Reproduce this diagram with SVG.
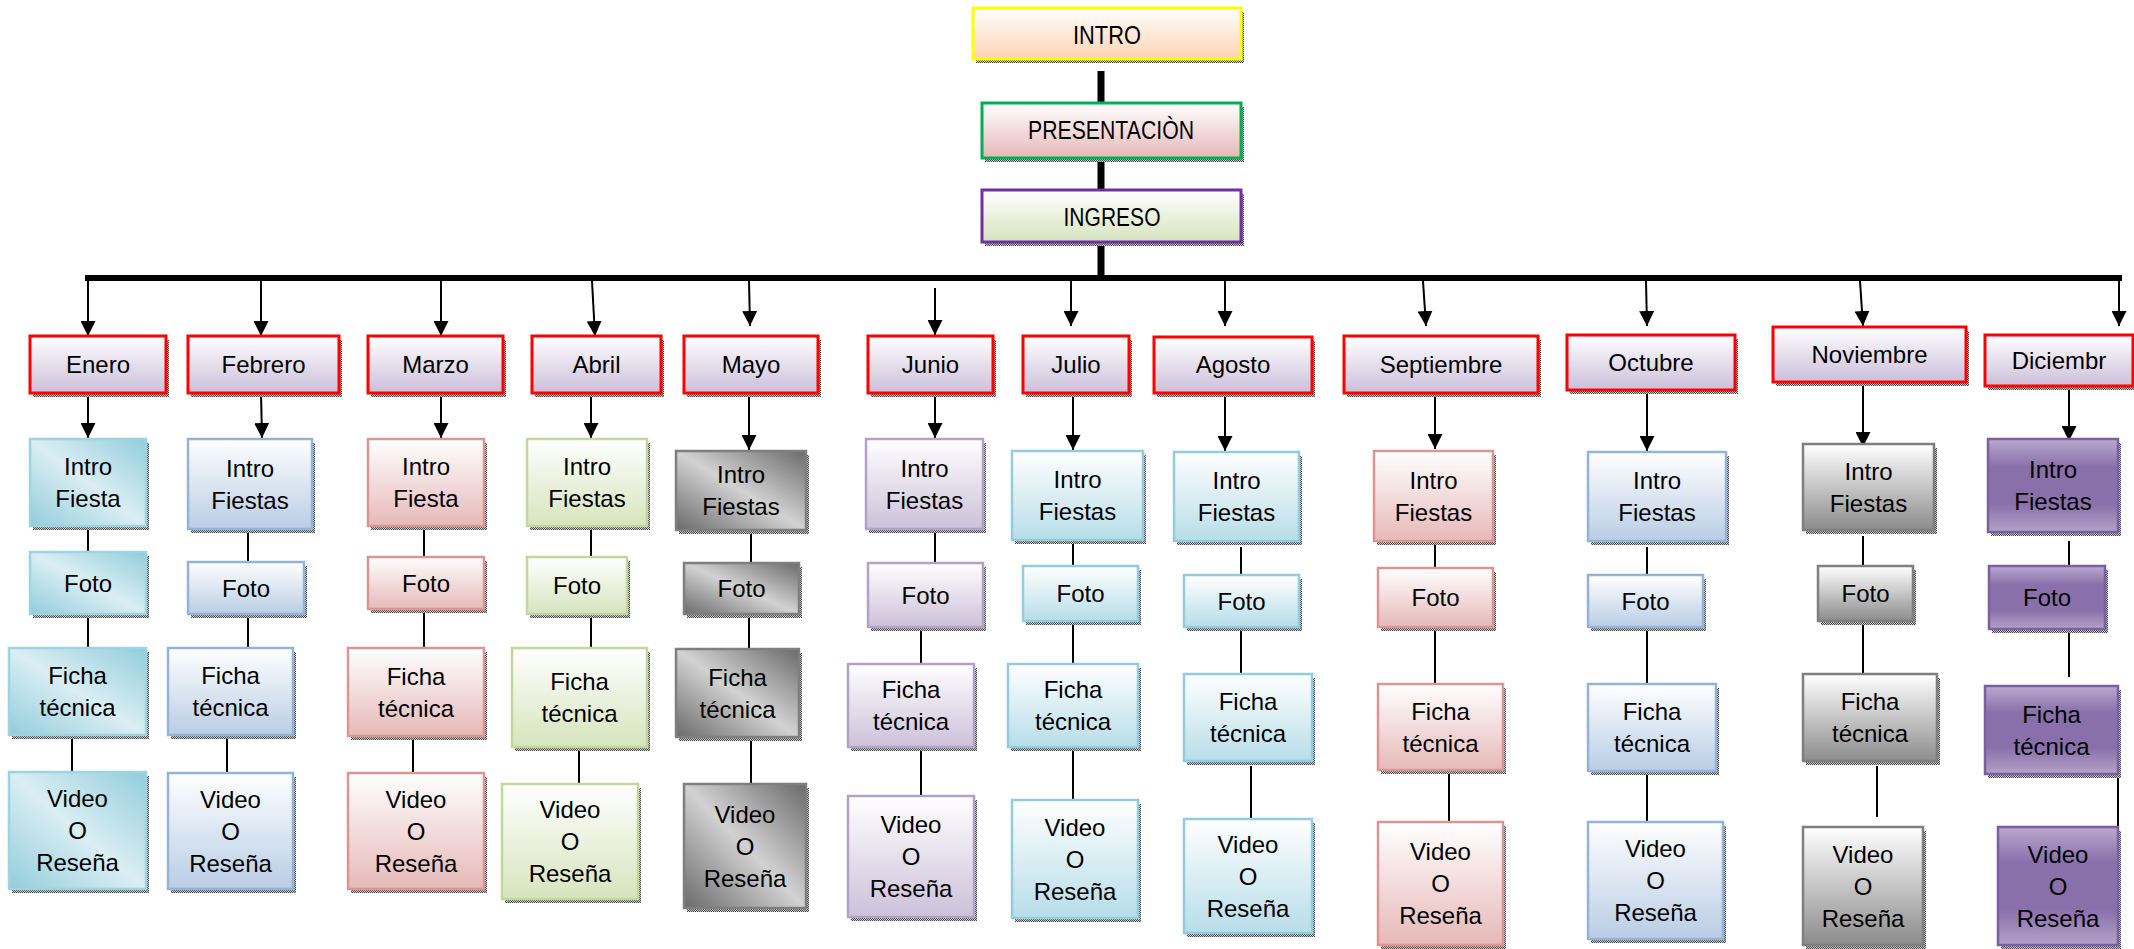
<svg xmlns="http://www.w3.org/2000/svg" width="2134" height="949" viewBox="0 0 2134 949">
<style>
.t{font-family:"Liberation Sans",Arial,sans-serif;font-size:24px;text-anchor:middle;fill:#000}
.tt{font-family:"Liberation Sans",Arial,sans-serif;font-size:26px;text-anchor:middle;fill:#000}
.sh{fill:url(#dots)}
.m{fill:url(#gMonth);stroke:#ff0000;stroke-width:3}
.b{stroke-width:2.5}
.teal{fill:url(#gTeal);stroke:#9fd3df}
.blue{fill:url(#gBlue);stroke:#95b3d7}
.pink{fill:url(#gPink);stroke:#d99694}
.green{fill:url(#gGreen);stroke:#c3d69b}
.gray{fill:url(#gGrayD);stroke:#7f7f7f}
.lav{fill:url(#gLav);stroke:#b3a2c7}
.lblue{fill:url(#gLBlue);stroke:#93cddd}
.ngray{fill:url(#gGrayV);stroke:#7f7f7f}
.purp{fill:url(#gPurp);stroke:#7b5fa0}
.thick{stroke:#000;stroke-width:7;fill:none}
.bar{stroke:#000;stroke-width:6;fill:none}
.arr{stroke:#000;stroke-width:2;fill:none;marker-end:url(#ah)}
.ln{stroke:#000;stroke-width:2;fill:none}
</style>
<defs>
<pattern id="dots" width="2" height="2" patternUnits="userSpaceOnUse"><rect width="2" height="2" fill="#c8c8c8"/><rect width="1" height="1" fill="#4d4d4d"/><rect x="1" y="1" width="1" height="1" fill="#4d4d4d"/></pattern>
<marker id="ah" viewBox="0 0 10 10" refX="10" refY="5" markerUnits="userSpaceOnUse" markerWidth="15" markerHeight="15" orient="auto"><path d="M0,0 L10,5 L0,10 z" fill="#000"/></marker>
<linearGradient id="gMonth" x1="0" y1="0" x2="0" y2="1"><stop offset="0" stop-color="#ffffff"/><stop offset="1" stop-color="#cbbfda"/></linearGradient>
<linearGradient id="gIntro" x1="0" y1="0" x2="0" y2="1"><stop offset="0" stop-color="#ffffff"/><stop offset="1" stop-color="#fbd4b4"/></linearGradient>
<linearGradient id="gPres" x1="0" y1="0" x2="0" y2="1"><stop offset="0" stop-color="#ffffff"/><stop offset="1" stop-color="#e5b8b7"/></linearGradient>
<linearGradient id="gIng" x1="0" y1="0" x2="0" y2="1"><stop offset="0" stop-color="#ffffff"/><stop offset="1" stop-color="#d6e3bc"/></linearGradient>
<linearGradient id="gTeal" x1="0" y1="1" x2="1" y2="0"><stop offset="0" stop-color="#92cddc"/><stop offset="0.5" stop-color="#daeef3"/><stop offset="1" stop-color="#92cddc"/></linearGradient>
<linearGradient id="gGrayD" x1="0" y1="1" x2="1" y2="0"><stop offset="0" stop-color="#6a6a6a"/><stop offset="0.5" stop-color="#d2d2d2"/><stop offset="1" stop-color="#6a6a6a"/></linearGradient>
<linearGradient id="gBlue" x1="0" y1="0" x2="0" y2="1"><stop offset="0" stop-color="#ffffff"/><stop offset="1" stop-color="#b9cde5"/></linearGradient>
<linearGradient id="gPink" x1="0" y1="0" x2="0" y2="1"><stop offset="0" stop-color="#ffffff"/><stop offset="1" stop-color="#e6b9b8"/></linearGradient>
<linearGradient id="gGreen" x1="0" y1="0" x2="0" y2="1"><stop offset="0" stop-color="#ffffff"/><stop offset="1" stop-color="#d7e4bd"/></linearGradient>
<linearGradient id="gLav" x1="0" y1="0" x2="0" y2="1"><stop offset="0" stop-color="#ffffff"/><stop offset="1" stop-color="#ccc1da"/></linearGradient>
<linearGradient id="gLBlue" x1="0" y1="0" x2="0" y2="1"><stop offset="0" stop-color="#ffffff"/><stop offset="1" stop-color="#b7dde8"/></linearGradient>
<linearGradient id="gGrayV" x1="0" y1="0" x2="0" y2="1"><stop offset="0" stop-color="#ffffff"/><stop offset="1" stop-color="#8c8c8c"/></linearGradient>
<linearGradient id="gPurp" x1="0" y1="0" x2="0" y2="1"><stop offset="0" stop-color="#b9a9cf"/><stop offset="0.3" stop-color="#8a70ab"/><stop offset="0.7" stop-color="#8a70ab"/><stop offset="1" stop-color="#b3a2c7"/></linearGradient>
</defs>
<rect width="2134" height="949" fill="#ffffff"/>

<g id="connectors">
<line class="thick" x1="1101" y1="71" x2="1101" y2="103"/>
<line class="thick" x1="1101" y1="158" x2="1101" y2="190"/>
<line class="thick" x1="1101" y1="242" x2="1101" y2="278"/>
<polyline class="bar" points="88,281 88,278 2119,278 2119,281"/>
<line class="arr" x1="88" y1="281" x2="88" y2="336"/>
<line class="arr" x1="261" y1="281" x2="261" y2="336"/>
<line class="arr" x1="441" y1="281" x2="441" y2="336"/>
<line class="arr" x1="592" y1="281" x2="595" y2="336"/>
<line class="arr" x1="749" y1="281" x2="750" y2="326"/>
<line class="arr" x1="935" y1="288" x2="935" y2="335"/>
<line class="arr" x1="1071" y1="281" x2="1071" y2="326"/>
<line class="arr" x1="1225" y1="281" x2="1225" y2="326"/>
<line class="arr" x1="1423" y1="281" x2="1426" y2="326"/>
<line class="arr" x1="1646" y1="281" x2="1647" y2="326"/>
<line class="arr" x1="1860" y1="281" x2="1863" y2="326"/>
<line class="arr" x1="2119" y1="281" x2="2119" y2="326"/>
<line class="arr" x1="88" y1="393" x2="88" y2="438"/>
<line class="arr" x1="261" y1="393" x2="262" y2="438"/>
<line class="arr" x1="441" y1="393" x2="441" y2="438"/>
<line class="arr" x1="591" y1="393" x2="591" y2="438"/>
<line class="arr" x1="749" y1="393" x2="749" y2="450"/>
<line class="arr" x1="935" y1="393" x2="935" y2="438"/>
<line class="arr" x1="1073" y1="393" x2="1073" y2="450"/>
<line class="arr" x1="1225" y1="393" x2="1225" y2="451"/>
<line class="arr" x1="1435" y1="393" x2="1435" y2="449"/>
<line class="arr" x1="1647" y1="390" x2="1647" y2="451"/>
<line class="arr" x1="1863" y1="382" x2="1863" y2="447"/>
<line class="arr" x1="2069" y1="386" x2="2069" y2="441"/>
<line class="ln" x1="88" y1="526" x2="88" y2="552"/>
<line class="ln" x1="88" y1="614" x2="88" y2="648"/>
<line class="ln" x1="72" y1="735" x2="72" y2="772"/>
<line class="ln" x1="248" y1="529" x2="248" y2="562"/>
<line class="ln" x1="248" y1="614" x2="248" y2="648"/>
<line class="ln" x1="227" y1="735" x2="227" y2="773"/>
<line class="ln" x1="424" y1="526" x2="424" y2="557"/>
<line class="ln" x1="424" y1="609" x2="424" y2="648"/>
<line class="ln" x1="413" y1="736" x2="413" y2="773"/>
<line class="ln" x1="591" y1="526" x2="591" y2="557"/>
<line class="ln" x1="591" y1="614" x2="591" y2="648"/>
<line class="ln" x1="579" y1="747" x2="579" y2="784"/>
<line class="ln" x1="751" y1="530" x2="751" y2="563"/>
<line class="ln" x1="749" y1="614" x2="749" y2="649"/>
<line class="ln" x1="751" y1="737" x2="751" y2="784"/>
<line class="ln" x1="935" y1="529" x2="935" y2="563"/>
<line class="ln" x1="921" y1="627" x2="921" y2="664"/>
<line class="ln" x1="921" y1="747" x2="921" y2="796"/>
<line class="ln" x1="1073" y1="540" x2="1073" y2="566"/>
<line class="ln" x1="1073" y1="621" x2="1073" y2="664"/>
<line class="ln" x1="1073" y1="747" x2="1073" y2="800"/>
<line class="ln" x1="1241" y1="547" x2="1241" y2="575"/>
<line class="ln" x1="1241" y1="627" x2="1241" y2="674"/>
<line class="ln" x1="1251" y1="766" x2="1251" y2="819"/>
<line class="ln" x1="1435" y1="541" x2="1435" y2="568"/>
<line class="ln" x1="1435" y1="627" x2="1435" y2="684"/>
<line class="ln" x1="1449" y1="770" x2="1449" y2="822"/>
<line class="ln" x1="1647" y1="547" x2="1647" y2="575"/>
<line class="ln" x1="1647" y1="627" x2="1647" y2="684"/>
<line class="ln" x1="1647" y1="771" x2="1647" y2="822"/>
<line class="ln" x1="1863" y1="536" x2="1863" y2="566"/>
<line class="ln" x1="1863" y1="621" x2="1863" y2="674"/>
<line class="ln" x1="1877" y1="766" x2="1877" y2="817"/>
<line class="ln" x1="2069" y1="541" x2="2069" y2="565"/>
<line class="ln" x1="2069" y1="629" x2="2069" y2="677"/>
<line class="ln" x1="2118" y1="774" x2="2118" y2="827"/>
</g>

<g id="intro"><rect class="sh" x="976" y="12" width="268" height="51"/><rect x="973" y="8" width="268" height="51" fill="url(#gIntro)" stroke="#ffff00" stroke-width="3"/><text class="tt" x="1107" y="44" textLength="68" lengthAdjust="spacingAndGlyphs">INTRO</text></g>
<g id="presentacion"><rect class="sh" x="985" y="107" width="259" height="55"/><rect x="982" y="103" width="259" height="55" fill="url(#gPres)" stroke="#00b050" stroke-width="3"/><text class="tt" x="1111" y="139" textLength="166" lengthAdjust="spacingAndGlyphs">PRESENTACIÒN</text></g>
<g id="ingreso"><rect class="sh" x="985" y="194" width="259" height="52"/><rect x="982" y="190" width="259" height="52" fill="url(#gIng)" stroke="#7030a0" stroke-width="3"/><text class="tt" x="1112" y="226" textLength="97" lengthAdjust="spacingAndGlyphs">INGRESO</text></g>

<g id="enero"><rect class="sh" x="33" y="340" width="136" height="57"/><rect class="m" x="30" y="336" width="136" height="57"/><text class="t" x="98" y="372.5">Enero</text></g>
<g id="febrero"><rect class="sh" x="191" y="340" width="151" height="57"/><rect class="m" x="188" y="336" width="151" height="57"/><text class="t" x="263.5" y="372.5">Febrero</text></g>
<g id="marzo"><rect class="sh" x="371" y="340" width="135" height="57"/><rect class="m" x="368" y="336" width="135" height="57"/><text class="t" x="435.5" y="372.5">Marzo</text></g>
<g id="abril"><rect class="sh" x="535" y="340" width="129" height="57"/><rect class="m" x="532" y="336" width="129" height="57"/><text class="t" x="596.5" y="372.5">Abril</text></g>
<g id="mayo"><rect class="sh" x="687" y="340" width="134" height="57"/><rect class="m" x="684" y="336" width="134" height="57"/><text class="t" x="751" y="372.5">Mayo</text></g>
<g id="junio"><rect class="sh" x="871" y="340" width="125" height="57"/><rect class="m" x="868" y="336" width="125" height="57"/><text class="t" x="930.5" y="372.5">Junio</text></g>
<g id="julio"><rect class="sh" x="1026" y="340" width="106" height="57"/><rect class="m" x="1023" y="336" width="106" height="57"/><text class="t" x="1076" y="372.5">Julio</text></g>
<g id="agosto"><rect class="sh" x="1157" y="341" width="158" height="56"/><rect class="m" x="1154" y="337" width="158" height="56"/><text class="t" x="1233" y="373">Agosto</text></g>
<g id="septiembre"><rect class="sh" x="1347" y="340" width="194" height="57"/><rect class="m" x="1344" y="336" width="194" height="57"/><text class="t" x="1441" y="372.5">Septiembre</text></g>
<g id="octubre"><rect class="sh" x="1570" y="339" width="168" height="55"/><rect class="m" x="1567" y="335" width="168" height="55"/><text class="t" x="1651" y="370.5">Octubre</text></g>
<g id="noviembre"><rect class="sh" x="1776" y="331" width="193" height="55"/><rect class="m" x="1773" y="327" width="193" height="55"/><text class="t" x="1869.5" y="362.5">Noviembre</text></g>
<g id="diciembre"><rect class="sh" x="1988" y="339" width="148" height="51"/><rect class="m" x="1985" y="335" width="148" height="51"/><text class="t" x="2059" y="368.5">Diciembr</text></g>

<g id="enero-intro"><rect class="sh" x="33" y="443" width="116" height="87"/><rect class="b teal" x="30" y="439" width="116" height="87"/><text class="t"><tspan x="88" y="475">Intro</tspan><tspan x="88" y="507">Fiesta</tspan></text></g>
<g id="enero-foto"><rect class="sh" x="33" y="556" width="116" height="62"/><rect class="b teal" x="30" y="552" width="116" height="62"/><text class="t" x="88" y="591.5">Foto</text></g>
<g id="enero-ficha"><rect class="sh" x="12" y="652" width="137" height="87"/><rect class="b teal" x="9" y="648" width="137" height="87"/><text class="t"><tspan x="77.5" y="684">Ficha</tspan><tspan x="77.5" y="716">técnica</tspan></text></g>
<g id="enero-video"><rect class="sh" x="12" y="776" width="137" height="117"/><rect class="b teal" x="9" y="772" width="137" height="117"/><text class="t"><tspan x="77.5" y="807">Video</tspan><tspan x="77.5" y="839">O</tspan><tspan x="77.5" y="871">Reseña</tspan></text></g>

<g id="febrero-intro"><rect class="sh" x="191" y="443" width="124" height="90"/><rect class="b blue" x="188" y="439" width="124" height="90"/><text class="t"><tspan x="250" y="476.5">Intro</tspan><tspan x="250" y="508.5">Fiestas</tspan></text></g>
<g id="febrero-foto"><rect class="sh" x="191" y="566" width="116" height="52"/><rect class="b blue" x="188" y="562" width="116" height="52"/><text class="t" x="246" y="596.5">Foto</text></g>
<g id="febrero-ficha"><rect class="sh" x="171" y="652" width="125" height="87"/><rect class="b blue" x="168" y="648" width="125" height="87"/><text class="t"><tspan x="230.5" y="684">Ficha</tspan><tspan x="230.5" y="716">técnica</tspan></text></g>
<g id="febrero-video"><rect class="sh" x="171" y="777" width="125" height="116"/><rect class="b blue" x="168" y="773" width="125" height="116"/><text class="t"><tspan x="230.5" y="807.5">Video</tspan><tspan x="230.5" y="839.5">O</tspan><tspan x="230.5" y="871.5">Reseña</tspan></text></g>

<g id="marzo-intro"><rect class="sh" x="371" y="443" width="116" height="87"/><rect class="b pink" x="368" y="439" width="116" height="87"/><text class="t"><tspan x="426" y="475">Intro</tspan><tspan x="426" y="507">Fiesta</tspan></text></g>
<g id="marzo-foto"><rect class="sh" x="371" y="561" width="116" height="52"/><rect class="b pink" x="368" y="557" width="116" height="52"/><text class="t" x="426" y="591.5">Foto</text></g>
<g id="marzo-ficha"><rect class="sh" x="351" y="652" width="136" height="88"/><rect class="b pink" x="348" y="648" width="136" height="88"/><text class="t"><tspan x="416" y="684.5">Ficha</tspan><tspan x="416" y="716.5">técnica</tspan></text></g>
<g id="marzo-video"><rect class="sh" x="351" y="777" width="136" height="116"/><rect class="b pink" x="348" y="773" width="136" height="116"/><text class="t"><tspan x="416" y="807.5">Video</tspan><tspan x="416" y="839.5">O</tspan><tspan x="416" y="871.5">Reseña</tspan></text></g>

<g id="abril-intro"><rect class="sh" x="530" y="443" width="120" height="87"/><rect class="b green" x="527" y="439" width="120" height="87"/><text class="t"><tspan x="587" y="475">Intro</tspan><tspan x="587" y="507">Fiestas</tspan></text></g>
<g id="abril-foto"><rect class="sh" x="530" y="561" width="100" height="57"/><rect class="b green" x="527" y="557" width="100" height="57"/><text class="t" x="577" y="594">Foto</text></g>
<g id="abril-ficha"><rect class="sh" x="515" y="652" width="135" height="99"/><rect class="b green" x="512" y="648" width="135" height="99"/><text class="t"><tspan x="579.5" y="690">Ficha</tspan><tspan x="579.5" y="722">técnica</tspan></text></g>
<g id="abril-video"><rect class="sh" x="505" y="788" width="136" height="115"/><rect class="b green" x="502" y="784" width="136" height="115"/><text class="t"><tspan x="570" y="818">Video</tspan><tspan x="570" y="850">O</tspan><tspan x="570" y="882">Reseña</tspan></text></g>

<g id="mayo-intro"><rect class="sh" x="679" y="455" width="130" height="79"/><rect class="b gray" x="676" y="451" width="130" height="79"/><text class="t"><tspan x="741" y="483">Intro</tspan><tspan x="741" y="515">Fiestas</tspan></text></g>
<g id="mayo-foto"><rect class="sh" x="687" y="567" width="115" height="51"/><rect class="b gray" x="684" y="563" width="115" height="51"/><text class="t" x="741.5" y="597">Foto</text></g>
<g id="mayo-ficha"><rect class="sh" x="679" y="653" width="123" height="88"/><rect class="b gray" x="676" y="649" width="123" height="88"/><text class="t"><tspan x="737.5" y="685.5">Ficha</tspan><tspan x="737.5" y="717.5">técnica</tspan></text></g>
<g id="mayo-video"><rect class="sh" x="687" y="788" width="122" height="124"/><rect class="b gray" x="684" y="784" width="122" height="124"/><text class="t"><tspan x="745" y="822.5">Video</tspan><tspan x="745" y="854.5">O</tspan><tspan x="745" y="886.5">Reseña</tspan></text></g>

<g id="junio-intro"><rect class="sh" x="869" y="443" width="117" height="90"/><rect class="b lav" x="866" y="439" width="117" height="90"/><text class="t"><tspan x="924.5" y="476.5">Intro</tspan><tspan x="924.5" y="508.5">Fiestas</tspan></text></g>
<g id="junio-foto"><rect class="sh" x="871" y="567" width="115" height="64"/><rect class="b lav" x="868" y="563" width="115" height="64"/><text class="t" x="925.5" y="603.5">Foto</text></g>
<g id="junio-ficha"><rect class="sh" x="851" y="668" width="126" height="83"/><rect class="b lav" x="848" y="664" width="126" height="83"/><text class="t"><tspan x="911" y="698">Ficha</tspan><tspan x="911" y="730">técnica</tspan></text></g>
<g id="junio-video"><rect class="sh" x="851" y="800" width="126" height="121"/><rect class="b lav" x="848" y="796" width="126" height="121"/><text class="t"><tspan x="911" y="833">Video</tspan><tspan x="911" y="865">O</tspan><tspan x="911" y="897">Reseña</tspan></text></g>

<g id="julio-intro"><rect class="sh" x="1015" y="455" width="131" height="89"/><rect class="b lblue" x="1012" y="451" width="131" height="89"/><text class="t"><tspan x="1077.5" y="488">Intro</tspan><tspan x="1077.5" y="520">Fiestas</tspan></text></g>
<g id="julio-foto"><rect class="sh" x="1026" y="570" width="115" height="55"/><rect class="b lblue" x="1023" y="566" width="115" height="55"/><text class="t" x="1080.5" y="602">Foto</text></g>
<g id="julio-ficha"><rect class="sh" x="1011" y="668" width="130" height="83"/><rect class="b lblue" x="1008" y="664" width="130" height="83"/><text class="t"><tspan x="1073" y="698">Ficha</tspan><tspan x="1073" y="730">técnica</tspan></text></g>
<g id="julio-video"><rect class="sh" x="1015" y="804" width="126" height="118"/><rect class="b lblue" x="1012" y="800" width="126" height="118"/><text class="t"><tspan x="1075" y="835.5">Video</tspan><tspan x="1075" y="867.5">O</tspan><tspan x="1075" y="899.5">Reseña</tspan></text></g>

<g id="agosto-intro"><rect class="sh" x="1177" y="456" width="125" height="89"/><rect class="b lblue" x="1174" y="452" width="125" height="89"/><text class="t"><tspan x="1236.5" y="489">Intro</tspan><tspan x="1236.5" y="521">Fiestas</tspan></text></g>
<g id="agosto-foto"><rect class="sh" x="1187" y="579" width="115" height="52"/><rect class="b lblue" x="1184" y="575" width="115" height="52"/><text class="t" x="1241.5" y="609.5">Foto</text></g>
<g id="agosto-ficha"><rect class="sh" x="1187" y="678" width="128" height="87"/><rect class="b lblue" x="1184" y="674" width="128" height="87"/><text class="t"><tspan x="1248" y="710">Ficha</tspan><tspan x="1248" y="742">técnica</tspan></text></g>
<g id="agosto-video"><rect class="sh" x="1187" y="823" width="128" height="114"/><rect class="b lblue" x="1184" y="819" width="128" height="114"/><text class="t"><tspan x="1248" y="852.5">Video</tspan><tspan x="1248" y="884.5">O</tspan><tspan x="1248" y="916.5">Reseña</tspan></text></g>

<g id="septiembre-intro"><rect class="sh" x="1377" y="455" width="119" height="90"/><rect class="b pink" x="1374" y="451" width="119" height="90"/><text class="t"><tspan x="1433.5" y="488.5">Intro</tspan><tspan x="1433.5" y="520.5">Fiestas</tspan></text></g>
<g id="septiembre-foto"><rect class="sh" x="1381" y="572" width="115" height="59"/><rect class="b pink" x="1378" y="568" width="115" height="59"/><text class="t" x="1435.5" y="606">Foto</text></g>
<g id="septiembre-ficha"><rect class="sh" x="1381" y="688" width="125" height="86"/><rect class="b pink" x="1378" y="684" width="125" height="86"/><text class="t"><tspan x="1440.5" y="719.5">Ficha</tspan><tspan x="1440.5" y="751.5">técnica</tspan></text></g>
<g id="septiembre-video"><rect class="sh" x="1381" y="826" width="125" height="123"/><rect class="b pink" x="1378" y="822" width="125" height="123"/><text class="t"><tspan x="1440.5" y="860">Video</tspan><tspan x="1440.5" y="892">O</tspan><tspan x="1440.5" y="924">Reseña</tspan></text></g>

<g id="octubre-intro"><rect class="sh" x="1591" y="456" width="138" height="89"/><rect class="b blue" x="1588" y="452" width="138" height="89"/><text class="t"><tspan x="1657" y="489">Intro</tspan><tspan x="1657" y="521">Fiestas</tspan></text></g>
<g id="octubre-foto"><rect class="sh" x="1591" y="579" width="115" height="52"/><rect class="b blue" x="1588" y="575" width="115" height="52"/><text class="t" x="1645.5" y="609.5">Foto</text></g>
<g id="octubre-ficha"><rect class="sh" x="1591" y="688" width="128" height="87"/><rect class="b blue" x="1588" y="684" width="128" height="87"/><text class="t"><tspan x="1652" y="720">Ficha</tspan><tspan x="1652" y="752">técnica</tspan></text></g>
<g id="octubre-video"><rect class="sh" x="1591" y="826" width="135" height="117"/><rect class="b blue" x="1588" y="822" width="135" height="117"/><text class="t"><tspan x="1655.5" y="857">Video</tspan><tspan x="1655.5" y="889">O</tspan><tspan x="1655.5" y="921">Reseña</tspan></text></g>

<g id="noviembre-intro"><rect class="sh" x="1806" y="448" width="131" height="86"/><rect class="b ngray" x="1803" y="444" width="131" height="86"/><text class="t"><tspan x="1868.5" y="479.5">Intro</tspan><tspan x="1868.5" y="511.5">Fiestas</tspan></text></g>
<g id="noviembre-foto"><rect class="sh" x="1821" y="570" width="95" height="55"/><rect class="b ngray" x="1818" y="566" width="95" height="55"/><text class="t" x="1865.5" y="602">Foto</text></g>
<g id="noviembre-ficha"><rect class="sh" x="1806" y="678" width="134" height="87"/><rect class="b ngray" x="1803" y="674" width="134" height="87"/><text class="t"><tspan x="1870" y="710">Ficha</tspan><tspan x="1870" y="742">técnica</tspan></text></g>
<g id="noviembre-video"><rect class="sh" x="1806" y="831" width="120" height="118"/><rect class="b ngray" x="1803" y="827" width="120" height="118"/><text class="t"><tspan x="1863" y="862.5">Video</tspan><tspan x="1863" y="894.5">O</tspan><tspan x="1863" y="926.5">Reseña</tspan></text></g>

<g id="diciembre-intro"><rect class="sh" x="1991" y="443" width="130" height="93"/><rect class="b purp" x="1988" y="439" width="130" height="93"/><text class="t" fill="#1a1a1a"><tspan x="2053" y="478">Intro</tspan><tspan x="2053" y="510">Fiestas</tspan></text></g>
<g id="diciembre-foto"><rect class="sh" x="1992" y="570" width="116" height="63"/><rect class="b purp" x="1989" y="566" width="116" height="63"/><text class="t" x="2047" y="606">Foto</text></g>
<g id="diciembre-ficha"><rect class="sh" x="1988" y="690" width="133" height="88"/><rect class="b purp" x="1985" y="686" width="133" height="88"/><text class="t"><tspan x="2051.5" y="722.5">Ficha</tspan><tspan x="2051.5" y="754.5">técnica</tspan></text></g>
<g id="diciembre-video"><rect class="sh" x="2001" y="831" width="120" height="118"/><rect class="b purp" x="1998" y="827" width="120" height="118"/><text class="t"><tspan x="2058" y="862.5">Video</tspan><tspan x="2058" y="894.5">O</tspan><tspan x="2058" y="926.5">Reseña</tspan></text></g>
</svg>
